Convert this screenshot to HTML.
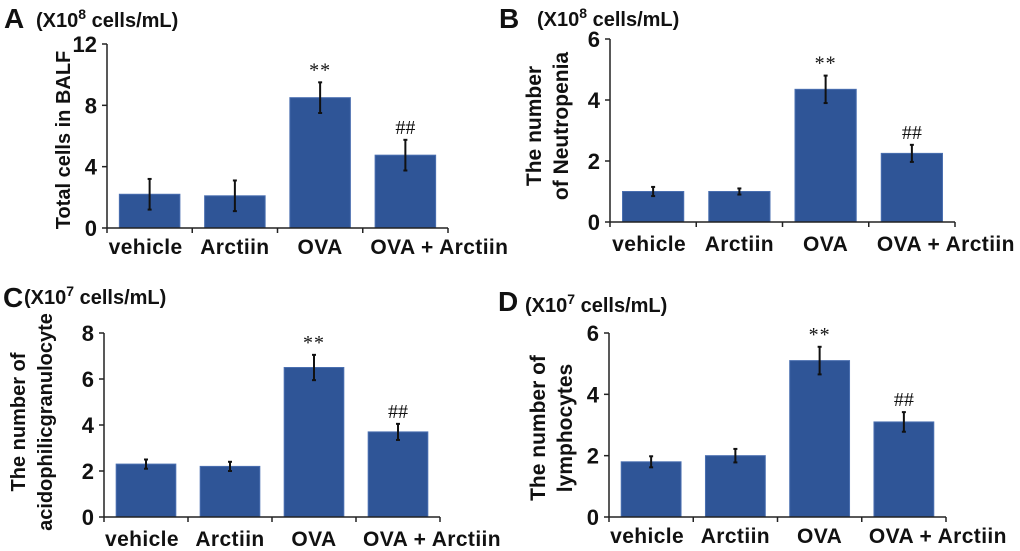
<!DOCTYPE html>
<html><head><meta charset="utf-8"><style>
html,body{margin:0;padding:0;background:#fff;}
svg{display:block;font-family:"Liberation Sans",Arial,sans-serif;}
</style></head><body>
<svg id="fig" width="1020" height="551" viewBox="0 0 1020 551"></svg>
<script>
const categories = ["vehicle","Arctiin","OVA","OVA + Arctiin"];
const valuesA = [2.2, 2.1, 8.5, 4.75];
const errorsA = [1.0, 1.0, 1.0, 1.0];
const ticksA = [0, 4, 8, 12];
const valuesB = [1.0, 1.0, 4.35, 2.25];
const errorsB = [0.15, 0.1, 0.45, 0.28];
const ticksB = [0, 2, 4, 6];
const valuesC = [2.3, 2.2, 6.5, 3.7];
const errorsC = [0.2, 0.2, 0.55, 0.35];
const ticksC = [0, 2, 4, 6, 8];
const valuesD = [1.8, 2.0, 5.1, 3.1];
const errorsD = [0.18, 0.22, 0.45, 0.32];
const ticksD = [0, 2, 4, 6];
const marksText = ["", "", "**", "##"];
const labelShift = [-4, 0, 0, 34];

const NS = "http://www.w3.org/2000/svg";
const svg = document.getElementById("fig");
function mk(tag, attrs, parent, text){
  const e = document.createElementNS(NS, tag);
  for (const k in attrs) e.setAttribute(k, attrs[k]);
  if (text !== undefined) e.textContent = text;
  (parent || svg).appendChild(e);
  return e;
}

function panel(cfg){
  const g = mk("g", {});
  
  
  const yMax = cfg.ticks[cfg.ticks.length-1];
  const y = v => cfg.y0 - (v / yMax) * (cfg.y0 - cfg.yTop);
  const step = (cfg.x1 - cfg.x0) / categories.length;
  const xc = i => cfg.x0 + step * (i + 0.5);
  const bw = step * 0.71;
  cfg.values.forEach((v, i) => {
    const r = mk("rect", {x: xc(i) - bw/2, y: y(v), width: bw, height: cfg.y0 - y(v), fill: "#2f5597", stroke: "#4a6fb0", "stroke-width": 1}, g);
    
    
    const e = cfg.errors[i];
    const eg = mk("g", {stroke: "#111", "stroke-width": 2}, g);
    
    
    mk("line", {x1: xc(i), x2: xc(i), y1: y(v+e), y2: y(v-e)}, eg);
    mk("line", {x1: xc(i)-2, x2: xc(i)+2, y1: y(v+e), y2: y(v+e)}, eg);
    mk("line", {x1: xc(i)-2, x2: xc(i)+2, y1: y(v-e), y2: y(v-e)}, eg);
    if (marksText[i]) {
      const t = mk("text", {x: xc(i), y: y(v+e) - 6, "text-anchor": "middle", "font-size": 20, "letter-spacing": marksText[i]==="**" ? 1 : 0, "font-family": "Liberation Serif, serif", fill: "#111"}, g, marksText[i]);
      
      
    }
  });
  const ax = mk("g", {stroke: "#222", "stroke-width": 1.5}, g);
  
  
  mk("line", {x1: cfg.x0, x2: cfg.x0, y1: cfg.yTop, y2: cfg.y0}, ax);
  mk("line", {x1: cfg.x0, x2: cfg.x1, y1: cfg.y0, y2: cfg.y0}, ax);
  cfg.ticks.forEach(t => {
    mk("line", {x1: cfg.x0 - 5, x2: cfg.x0, y1: y(t), y2: y(t)}, ax);
    const tl = mk("text", {x: cfg.x0 - 10, y: y(t) + 8, "text-anchor": "end", "font-size": 22, "font-weight": "bold", fill: "#111"}, g, String(t));
    
    
  });
  for (let i = 0; i <= categories.length; i++) {
    mk("line", {x1: cfg.x0 + step*i, x2: cfg.x0 + step*i, y1: cfg.y0, y2: cfg.y0 + 5}, ax);
  }
  categories.forEach((c, i) => {
    const tl = mk("text", {x: xc(i) + labelShift[i], y: cfg.labelY, "text-anchor": "middle", "font-size": 21, "font-weight": "bold", "letter-spacing": 0.4, fill: "#111"}, g, c);
    
    
  });
  const pl = mk("text", {x: cfg.letter[0], y: cfg.letter[1], "font-size": 28, "font-weight": "bold", fill: "#111"}, g, cfg.id);
  
  
  const un = mk("text", {x: cfg.unit[0], y: cfg.unit[1], "font-size": 20, "font-weight": "bold", fill: "#111"}, g);
  
  
  mk("tspan", {}, un, "(X10");
  mk("tspan", {dy: -8, "font-size": 14}, un, cfg.exp);
  mk("tspan", {dy: 8}, un, " cells/mL)");
  const yt = mk("text", {transform: `translate(${cfg.title[0]},${cfg.title[1]}) rotate(-90)`, "text-anchor": "middle", "font-size": cfg.titleSize, "font-weight": "bold", fill: "#111"}, g);
  
  
  cfg.titleLines.forEach((ln, k) => mk("tspan", {x: 0, y: k * 27}, yt, ln));
}

panel({id:"A", values: valuesA, errors: errorsA, ticks: ticksA, x0:107, x1:448, yTop:44, y0:228, labelY:254,
  letter:[4,28], unit:[36,27], exp:"8", title:[70,140], titleSize:20, titleLines:["Total cells in BALF"]});
panel({id:"B", values: valuesB, errors: errorsB, ticks: ticksB, x0:610, x1:955, yTop:39, y0:222, labelY:251,
  letter:[499,28], unit:[537,26], exp:"8", title:[541,126], titleSize:21, titleLines:["The number","of Neutropenia"]});
panel({id:"C", values: valuesC, errors: errorsC, ticks: ticksC, x0:104, x1:440, yTop:333, y0:517, labelY:546,
  letter:[3,307], unit:[24,304], exp:"7", title:[25,422], titleSize:20, titleLines:["The number of","acidophilicgranulocyte"]});
panel({id:"D", values: valuesD, errors: errorsD, ticks: ticksD, x0:609, x1:946, yTop:333, y0:517, labelY:543,
  letter:[498,311], unit:[525,312], exp:"7", title:[545,428], titleSize:21, titleLines:["The number of","lymphocytes"]});
</script>
</body></html>
